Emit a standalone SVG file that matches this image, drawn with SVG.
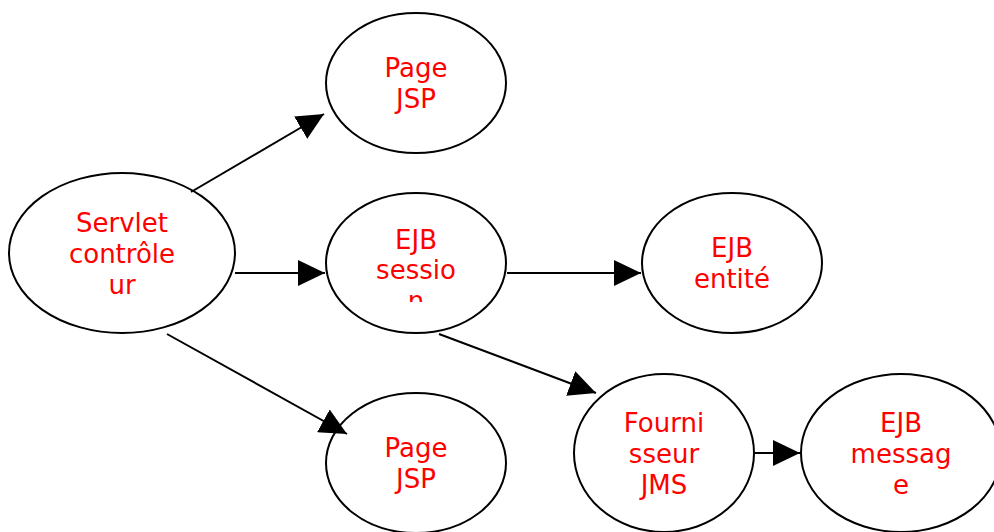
<svg xmlns="http://www.w3.org/2000/svg" width="994" height="532" viewBox="0 0 994 532">
<style>
.n{fill:#fff;stroke:#000;stroke-width:2}
.t{font-family:"DejaVu Sans",sans-serif;font-size:26px;fill:#ff0000;text-anchor:middle}
.c{stroke:#000;stroke-width:2;fill:none;marker-end:url(#ah)}
</style>
<defs>
<marker id="ah" markerUnits="userSpaceOnUse" markerWidth="28" markerHeight="26" refX="27" refY="13" orient="auto" viewBox="0 0 28 26">
<path d="M0,0 L27,13 L0,26 z" fill="#000"/>
</marker>
<clipPath id="cs"><rect x="326" y="200" width="180" height="102"/></clipPath>
</defs>
<rect width="994" height="532" fill="#fff"/>
<g id="servlet"><ellipse class="n" cx="122" cy="253" rx="113" ry="80"/>
<text class="t"><tspan x="122" y="232">Servlet</tspan><tspan x="122" y="263">contrôle</tspan><tspan x="122" y="294">ur</tspan></text></g>
<g id="jsp1"><ellipse class="n" cx="416" cy="83" rx="90" ry="70"/>
<text class="t"><tspan x="416" y="77">Page</tspan><tspan x="416" y="108">JSP</tspan></text></g>
<g id="session"><ellipse class="n" cx="416" cy="263" rx="90" ry="70"/>
<text class="t" clip-path="url(#cs)"><tspan x="416" y="249">EJB</tspan><tspan x="416" y="279">sessio</tspan><tspan x="416" y="310">n</tspan></text></g>
<g id="entite"><ellipse class="n" cx="732" cy="263" rx="90" ry="70"/>
<text class="t"><tspan x="732" y="257">EJB</tspan><tspan x="732" y="288">entité</tspan></text></g>
<g id="jsp2"><ellipse class="n" cx="416" cy="463" rx="90" ry="70"/>
<text class="t"><tspan x="416" y="457">Page</tspan><tspan x="416" y="488">JSP</tspan></text></g>
<g id="jms"><ellipse class="n" cx="664" cy="453" rx="90" ry="79"/>
<text class="t"><tspan x="664" y="432">Fourni</tspan><tspan x="664" y="463">sseur</tspan><tspan x="664" y="494">JMS</tspan></text></g>
<g id="message"><ellipse class="n" cx="901" cy="453" rx="100" ry="79"/>
<text class="t"><tspan x="901" y="432">EJB</tspan><tspan x="901" y="463">messag</tspan><tspan x="901" y="494">e</tspan></text></g>
<g id="connectors">
<line class="c" x1="191" y1="192" x2="324" y2="114"/>
<line class="c" x1="235" y1="273" x2="325" y2="273"/>
<line class="c" x1="167" y1="334" x2="347" y2="434"/>
<line class="c" x1="507" y1="273" x2="641" y2="273"/>
<line class="c" x1="439" y1="334" x2="596" y2="393"/>
<line class="c" x1="755" y1="453" x2="800" y2="453"/>
</g>
</svg>
